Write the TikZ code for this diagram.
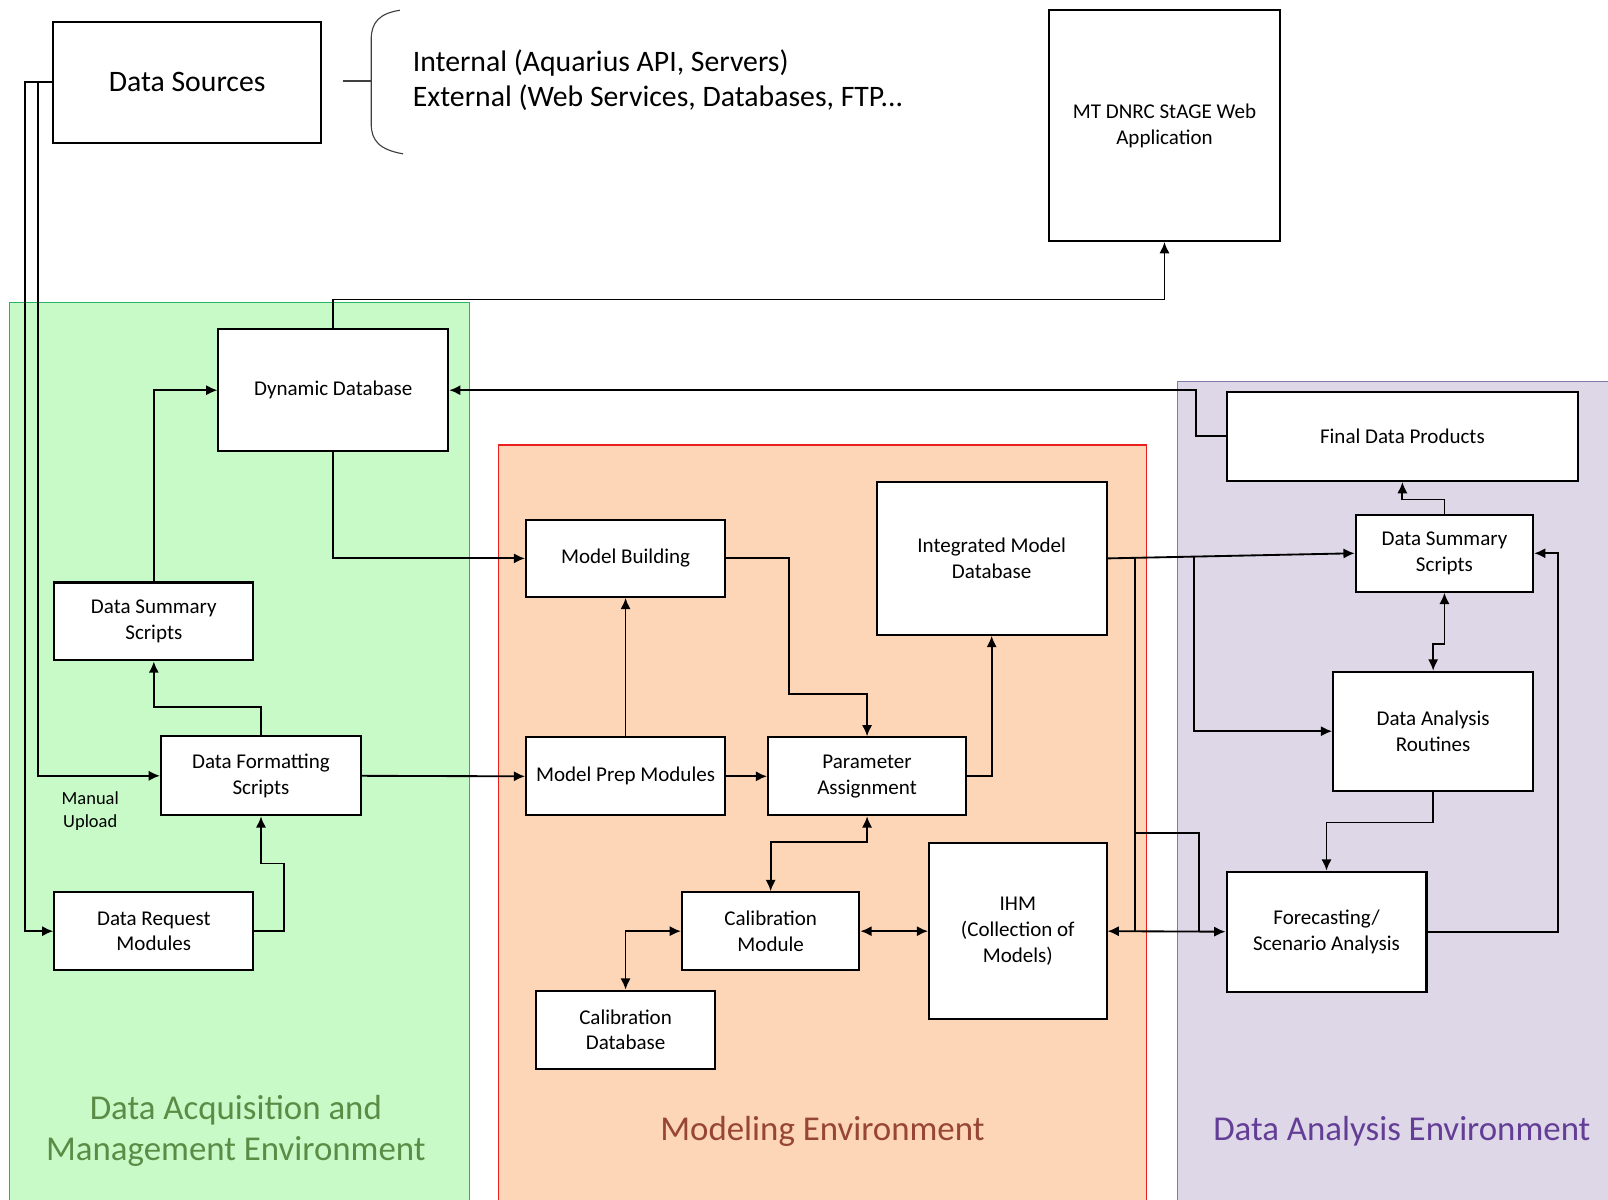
\documentclass[tikz,border=0pt]{standalone}
\usepackage{fontspec}
\setmainfont{Carlito}
\usetikzlibrary{arrows.meta}

\definecolor{acqfill}{RGB}{200,250,200}
\definecolor{acqline}{RGB}{40,180,100}
\definecolor{acqtext}{RGB}{90,140,70}
\definecolor{modfill}{RGB}{252,214,182}
\definecolor{modline}{RGB}{235,30,30}
\definecolor{modtext}{RGB}{150,70,50}
\definecolor{anafill}{RGB}{221,215,232}
\definecolor{analine}{RGB}{130,120,170}
\definecolor{anatext}{RGB}{100,62,150}

\tikzset{
  box/.style={draw, fill=white, line width=2pt, align=center, inner sep=2pt,
              font=\fontsize{20.5}{25}\selectfont},
  conn/.style={line width=1.8pt},
  arr/.style={conn, -{Latex[length=11pt,width=10pt]}},
  darr/.style={conn, {Latex[length=11pt,width=10pt]}-{Latex[length=11pt,width=10pt]}},
  envlabel/.style={align=center, font=\fontsize{34}{40}\selectfont},
}

\begin{document}
\begin{tikzpicture}[x=1pt,y=-1pt]
\useasboundingbox (0,0) rectangle (1568,1170);
\fill[white] (0,0) rectangle (1568,1170);

% environment panels
\draw[fill=acqfill, draw=acqline, line width=1.2pt] (9,295) rectangle (458,1176);
\draw[fill=modfill, draw=modline, line width=1.2pt] (486,434) rectangle (1118,1176);
\draw[fill=anafill, draw=analine, line width=1.2pt] (1148,372) rectangle (1576,1176);

\node[envlabel, text=acqtext] (acqlbl) at (230,1103) {Data Acquisition and\\Management Environment};
\node[envlabel, text=modtext] (modlbl) at (802,1103) {Modeling Environment};
\node[envlabel, text=anatext] (analbl) at (1367,1103) {Data Analysis Environment};

% boxes
\node[box, minimum width=261pt, minimum height=118pt, font=\fontsize{29}{34}\selectfont] (ds) at (182.5,80) {Data Sources};
\node[box, minimum width=225pt, minimum height=225pt] (web) at (1135.5,122.5) {MT DNRC StAGE Web\\Application};
\node[box, minimum width=224pt, minimum height=119pt] (dyn) at (325,380.5) {Dynamic Database};
\node[box, minimum width=194pt, minimum height=76pt] (dssL) at (150,606) {Data Summary\\Scripts};
\node[box, minimum width=195pt, minimum height=77pt] (dfs) at (254.5,756.5) {Data Formatting\\Scripts};
\node[box, minimum width=194pt, minimum height=76pt] (drm) at (150,908) {Data Request\\Modules};
\node[box, minimum width=194pt, minimum height=75pt] (mb) at (610,544.5) {Model Building};
\node[box, minimum width=194pt, minimum height=76pt] (mpm) at (610,757) {Model Prep Modules};
\node[box, minimum width=193pt, minimum height=76pt] (pa) at (845.5,757) {Parameter\\Assignment};
\node[box, minimum width=224pt, minimum height=149pt] (imd) at (967,544.5) {Integrated Model\\Database};
\node[box, minimum width=173pt, minimum height=76pt] (cm) at (751.5,908) {Calibration\\Module};
\node[box, minimum width=174pt, minimum height=76pt] (cdb) at (610,1004) {Calibration\\Database};
\node[box, minimum width=173pt, minimum height=172pt] (ihm) at (992.5,908) {IHM\\(Collection of\\Models)};
\node[box, minimum width=343pt, minimum height=87pt] (fdp) at (1367.5,425.5) {Final Data Products};
\node[box, minimum width=173pt, minimum height=75pt] (dssR) at (1408.5,539.5) {Data Summary\\Scripts};
\node[box, minimum width=195pt, minimum height=116pt] (dar) at (1397.5,713) {Data Analysis\\Routines};
\node[box, minimum width=195pt, minimum height=117pt] (fsa) at (1293.5,908.5) {Forecasting/\\Scenario Analysis};

% source list with brace
\node[anchor=west, align=left, font=\fontsize{29}{34}\selectfont] (srclist) at (399,78) {Internal (Aquarius API, Servers)\\External (Web Services, Databases, FTP...};
\coordinate (brtip) at (362,79);
\draw[line width=1.1pt, draw=black!75] (390,10) .. controls (370,13) and (362,22) .. (362,38)
  -- (362,121) .. controls (362,137) and (370,146) .. (393,150);
\draw[line width=1.1pt, draw=black!75] (ds.east) ++(20,-1) -- (brtip);

\node[align=center, font=\fontsize{18}{22}\selectfont] (manual) at (88,791) {Manual\\Upload};

% acquisition connectors
\draw[arr] (ds.west) -- ++(-27,0) coordinate (dsout) |- (drm.west);
\draw[arr] ([xshift=-14pt]ds.west) |- (dfs.west);
\draw[arr] (dfs.north) -- ++(0,-28) -| (dssL.south);
\draw[arr] (drm.east) -| ++(29,-66) -| (dfs.south);
\draw[arr] (dssL.north) |- (dyn.west);
\draw[arr] (dyn.south) |- (mb.west);
\draw[arr] (dyn.north) -- ++(0,-28) -| (web.south);
\draw[arr] (fdp.west) -- ++(-29,0) |- (dyn.east);
\draw[arr] (dfs.east) -- (mpm.west);

% modeling connectors
\draw[arr] (mpm.north) -- (mb.south);
\draw[arr] (mpm.east) -- (pa.west);
\draw[arr] (mb.east) -| ++(61,132) -| (pa.north);
\draw[arr] (pa.east) -| (imd.south);
\draw[darr] (cm.north) -- ++(0,-48) -| (pa.south);
\draw[darr] (cdb.north) |- (cm.west);
\draw[darr] (cm.east) -- (ihm.west);

% links into the analysis environment
\draw[arr] (imd.east) -- (dssR.west);
\coordinate (busTop) at (1107,544);
\coordinate (busBot) at (1107,908);
\coordinate (tapDar) at (1164,543.5);
\draw[conn] (busTop) -- (busBot);
\draw[darr] (ihm.east) -- (fsa.west);
\draw[conn] (1107,812) -| (1169,908.5);
\draw[arr] (tapDar) |- (dar.west);

% analysis connectors
\draw[arr] (dssR.north) -- ++(0,-14) -| (fdp.south);
\draw[darr] (dssR.south) -- ++(0,50) -| (dar.north);
\draw[arr] (dar.south) -- ++(0,30) -| (fsa.north);
\draw[arr] (fsa.east) -| ([xshift=23pt]dssR.east) -- (dssR.east);
\end{tikzpicture}
\end{document}
